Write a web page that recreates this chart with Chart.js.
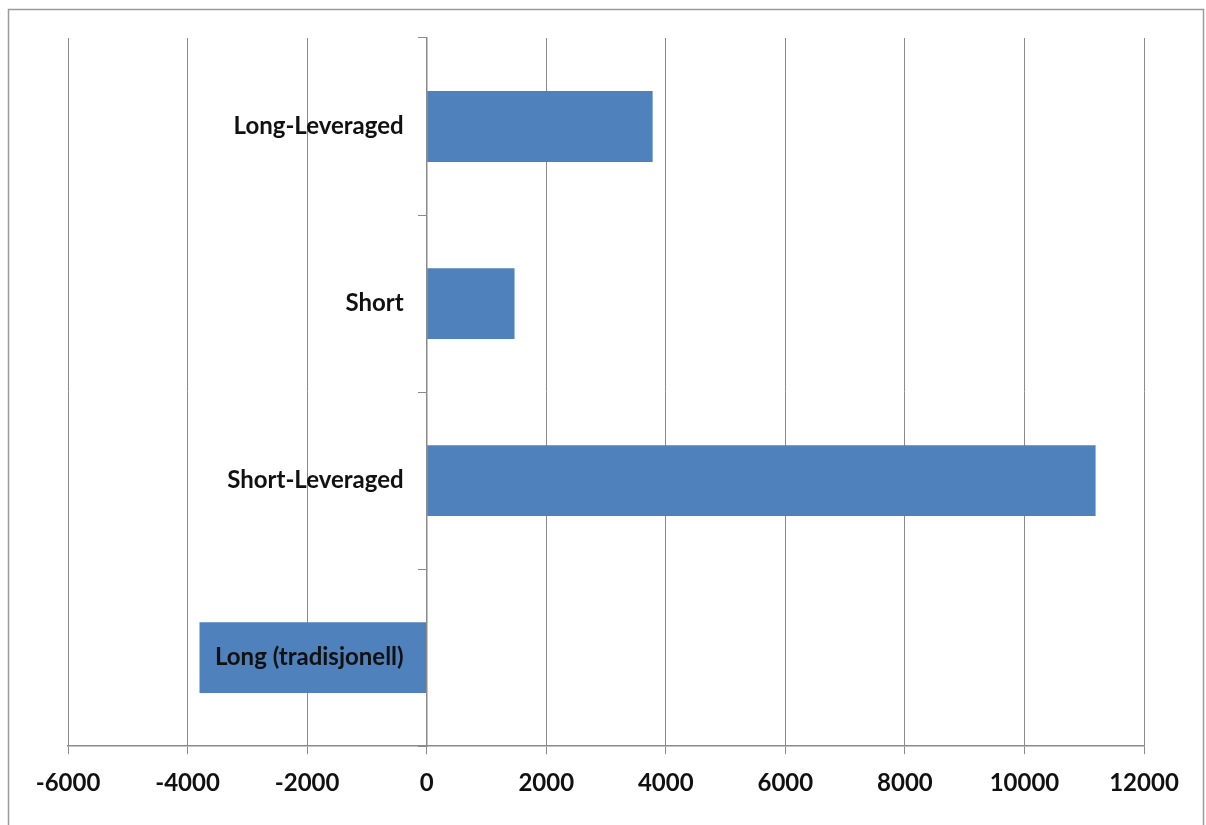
<!DOCTYPE html>
<html>
<head>
<meta charset="utf-8">
<script src="https://cdn.jsdelivr.net/npm/chart.js@4/dist/chart.umd.min.js"></script>
<style>
  html, body { margin: 0; padding: 0; background: #fff; }
  #wrap { width: 1206px; height: 825px; }
</style>
</head>
<body>
<div id="wrap"><canvas id="strategies" width="1206" height="825"></canvas></div>
<script>
// categories, top to bottom
var categories = ['Long-Leveraged', 'Short', 'Short-Leveraged', 'Long (tradisjonell)'];
var values = [3780, 1470, 11190, -3800];
var xTicks = [-6000, -4000, -2000, 0, 2000, 4000, 6000, 8000, 10000, 12000];

var axisGray = '#8a8a8a';
var barBlue = '#4f81bd';
var labelFont = { family: 'Lato', size: 24, weight: 'bold' };

// thin frame round the whole chart
var frame = {
    id: 'frame',
    beforeDraw: function (chart) {
        var ctx = chart.ctx;
        ctx.save();
        ctx.strokeStyle = '#9a9a9a';
        ctx.lineWidth = 1.5;
        ctx.strokeRect(8.5, 9.5, 1195, 840);
        ctx.restore();
    }
};

// category names sit just left of the zero line, on top of the bars
var categoryLabels = {
    id: 'categoryLabels',
    afterDatasetsDraw: function (chart) {
        var ctx = chart.ctx;
        var y = chart.scales.y;
        var x0 = chart.scales.x.getPixelForValue(0);
        ctx.save();
        ctx.font = 'bold 24px Lato';
        ctx.fillStyle = '#111';
        ctx.textAlign = 'right';
        ctx.textBaseline = 'middle';
        categories.forEach(function (name, i) {
            ctx.fillText(name, x0 - 23, y.getPixelForValue(i));
        });
        ctx.restore();
    }
};

var chart = new Chart('strategies', {
    type: 'bar',
    data: {
        labels: categories,
        datasets: [{
            data: values,
            backgroundColor: barBlue,
            borderWidth: 0,
            categoryPercentage: 1,
            barPercentage: 0.4
        }]
    },
    options: {
        indexAxis: 'y',
        responsive: false,
        animation: false,
        layout: {
            padding: { left: 68, right: 62, top: 38, bottom: 12 }
        },
        plugins: {
            legend: { display: false },
            tooltip: { enabled: false }
        },
        scales: {
            x: {
                min: xTicks[0],
                max: xTicks[xTicks.length - 1],
                afterBuildTicks: function (scale) {
                    scale.ticks = xTicks.map(function (v) { return { value: v }; });
                },
                grid: {
                    color: axisGray,
                    lineWidth: 1,
                    tickLength: 8
                },
                border: { color: axisGray, width: 1.5 },
                ticks: {
                    color: '#111',
                    padding: 15,
                    maxRotation: 0,
                    autoSkip: false,
                    font: labelFont,
                    callback: function (v) { return String(v); }
                }
            },
            y: {
                position: { x: 0 },
                grid: {
                    drawOnChartArea: false,
                    color: axisGray,
                    tickLength: 8,
                    offset: true
                },
                border: { color: axisGray, width: 1.5, z: 1 },
                ticks: { display: false }
            }
        }
    },
    plugins: [frame, categoryLabels]
});
</script>
</body>
</html>
